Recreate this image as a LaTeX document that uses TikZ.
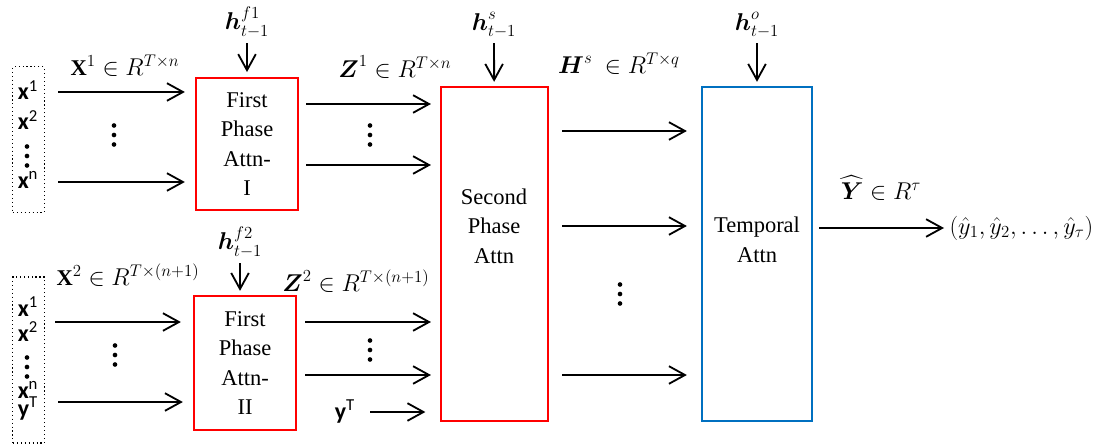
\documentclass[tikz,border=0pt]{standalone}
\usepackage{amsmath}
\usepackage{amssymb}
\usepackage{fontspec}
\setmainfont{Liberation Serif}
\setsansfont{Carlito}
\usetikzlibrary{arrows.meta,positioning}

\DeclareMathSizes{16}{16}{12}{9}

\definecolor{attnred}{RGB}{255,0,0}
\definecolor{attnblue}{RGB}{0,112,192}

\begin{document}
\begin{tikzpicture}[x=0.025cm, y=-0.025cm, >={Straight Barb[length=4mm,width=4.4mm]}, line width=1.3pt,
    redbox/.style={rectangle, draw=attnred, line width=1.6pt, align=center, font=\fontsize{16}{21}\selectfont},
    bluebox/.style={rectangle, draw=attnblue, line width=1.6pt},
    boxtext/.style={align=center, font=\fontsize{16}{21}\selectfont},
    inbox/.style={rectangle, draw, dotted, line width=0.8pt, minimum width=0.78cm},
    var/.style={font=\sffamily\fontsize{17}{17}\selectfont, anchor=base, inner sep=0pt},
    lab/.style={font=\fontsize{16}{16}\selectfont},
    line/.style={draw, ->},
    vdot/.pic={\fill (0,-9.5) circle (0.058cm); \fill (0,0) circle (0.058cm); \fill (0,9.5) circle (0.058cm);}]

    \useasboundingbox (0,0) rectangle (1096,446);

    % first phase attention I
    \node [inbox, minimum height=3.63cm] (in1) at (28.5,139.5) {};
    \node [var] (x11) at (28,100) {\textbf{x}\textsuperscript{1}};
    \node [var] (x12) at (28,130) {\textbf{x}\textsuperscript{2}};
    \pic at (27,156) {vdot};
    \node [var] (x1n) at (28,188) {\textbf{x}\textsuperscript{n}};

    \node [redbox, minimum width=2.55cm, minimum height=3.3cm] (fp1) at (247,144) {First\\Phase\\Attn-\\I};
    \node [lab] (hf1) at (247,22) {$\boldsymbol{h}^{f1}_{t-1}$};
    \node [lab] (lx1) at (125,66) {$\mathbf{X}^1 \in R^{T\times n}$};
    \node [lab] (lz1) at (395,67) {$\boldsymbol{Z}^1 \in R^{T\times n}$};

    \coordinate (i11) at (58,92);
    \coordinate (i12) at (58,182);
    \coordinate (o11) at (306,104);
    \coordinate (o12) at (306,165);

    % first phase attention II
    \node [inbox, minimum height=4.15cm] (in2) at (28.5,360) {};
    \node [var] (x21) at (28,316) {\textbf{x}\textsuperscript{1}};
    \node [var] (x22) at (28,341) {\textbf{x}\textsuperscript{2}};
    \pic at (27,367) {vdot};
    \node [var] (x2n) at (28,398) {\textbf{x}\textsuperscript{n}};
    \node [var] (y2T) at (28,416) {\textbf{y}\textsuperscript{T}};

    \node [redbox, minimum width=2.55cm, minimum height=3.35cm] (fp2) at (245,363) {First\\Phase\\Attn-\\II};
    \node [lab] (hf2) at (240,242) {$\boldsymbol{h}^{f2}_{t-1}$};
    \node [lab] (lx2) at (128,275) {$\mathbf{X}^2 \in R^{T\times (n+1)}$};
    \node [lab] (lz2) at (356,281) {$\boldsymbol{Z}^2 \in R^{T\times (n+1)}$};
    \node [var] (yT) at (345,419) {\textbf{y}\textsuperscript{T}};

    \coordinate (i21) at (55,322);
    \coordinate (i22) at (58,402);
    \coordinate (o21) at (305,322);
    \coordinate (o22) at (305,375);
    \coordinate (oyT) at (370,412);

    % second phase and temporal attention
    \node [redbox, minimum width=2.68cm, minimum height=8.35cm] (sp) at (494.5,254) {};
    \node [boxtext] (spt) at (494,226) {Second\\Phase\\Attn};
    \node [lab] (hs) at (494,25) {$\boldsymbol{h}^{s}_{t-1}$};
    \node [lab] (lhs) at (619,64) {$\boldsymbol{H}^s\ \in R^{T\times q}$};

    \node [bluebox, minimum width=2.75cm, minimum height=8.35cm] (ta) at (757,254) {};
    \node [boxtext] (tat) at (757,240) {Temporal\\Attn};
    \node [lab] (ho) at (757,25) {$\boldsymbol{h}^{o}_{t-1}$};
    \node [lab] (ly) at (881,188) {$\widehat{\boldsymbol{Y}} \in R^{\tau}$};
    \node [lab, anchor=west] (out) at (944,228) {$(\hat{y}_1, \hat{y}_2, \dots, \hat{y}_\tau)$};

    \coordinate (m1) at (562,131);
    \coordinate (m2) at (562,226);
    \coordinate (m3) at (562,375);

    % connectors
    \draw [line, shorten >=0.25cm] (i11) -- (i11 -| fp1.west);
    \draw [line, shorten >=0.25cm] (i12) -- (i12 -| fp1.west);
    \pic at (114,135) {vdot};
    \draw [line, shorten >=0.12cm] (hf1) -- (fp1);
    \draw [line, shorten >=0.22cm] (o11) -- (o11 -| sp.west);
    \draw [line, shorten >=0.22cm] (o12) -- (o12 -| sp.west);
    \pic at (370,135) {vdot};

    \draw [line, shorten >=0.3cm] (i21) -- (i21 -| fp2.west);
    \draw [line, shorten >=0.25cm] (i22) -- (i22 -| fp2.west);
    \pic at (115,355) {vdot};
    \draw [line, shorten >=0.1cm] (hf2) -- (hf2 |- fp2.north);
    \draw [line, shorten >=0.22cm] (o21) -- (o21 -| sp.west);
    \draw [line, shorten >=0.22cm] (o22) -- (o22 -| sp.west);
    \pic at (370,350) {vdot};
    \draw [line, shorten >=0.36cm] (oyT) -- (oyT -| sp.west);

    \draw [line, shorten >=0.1cm] (hs) -- (sp);
    \draw [line, shorten >=0.35cm] (m1) -- (m1 -| ta.west);
    \draw [line, shorten >=0.35cm] (m2) -- (m2 -| ta.west);
    \draw [line, shorten >=0.35cm] (m3) -- (m3 -| ta.west);
    \pic at (620,294) {vdot};

    \draw [line, shorten >=0.1cm] (ho) -- (ta);
    \draw [line, shorten <=0.15cm] (ta.east |- out.west) -- (out.west);

\end{tikzpicture}
\end{document}
